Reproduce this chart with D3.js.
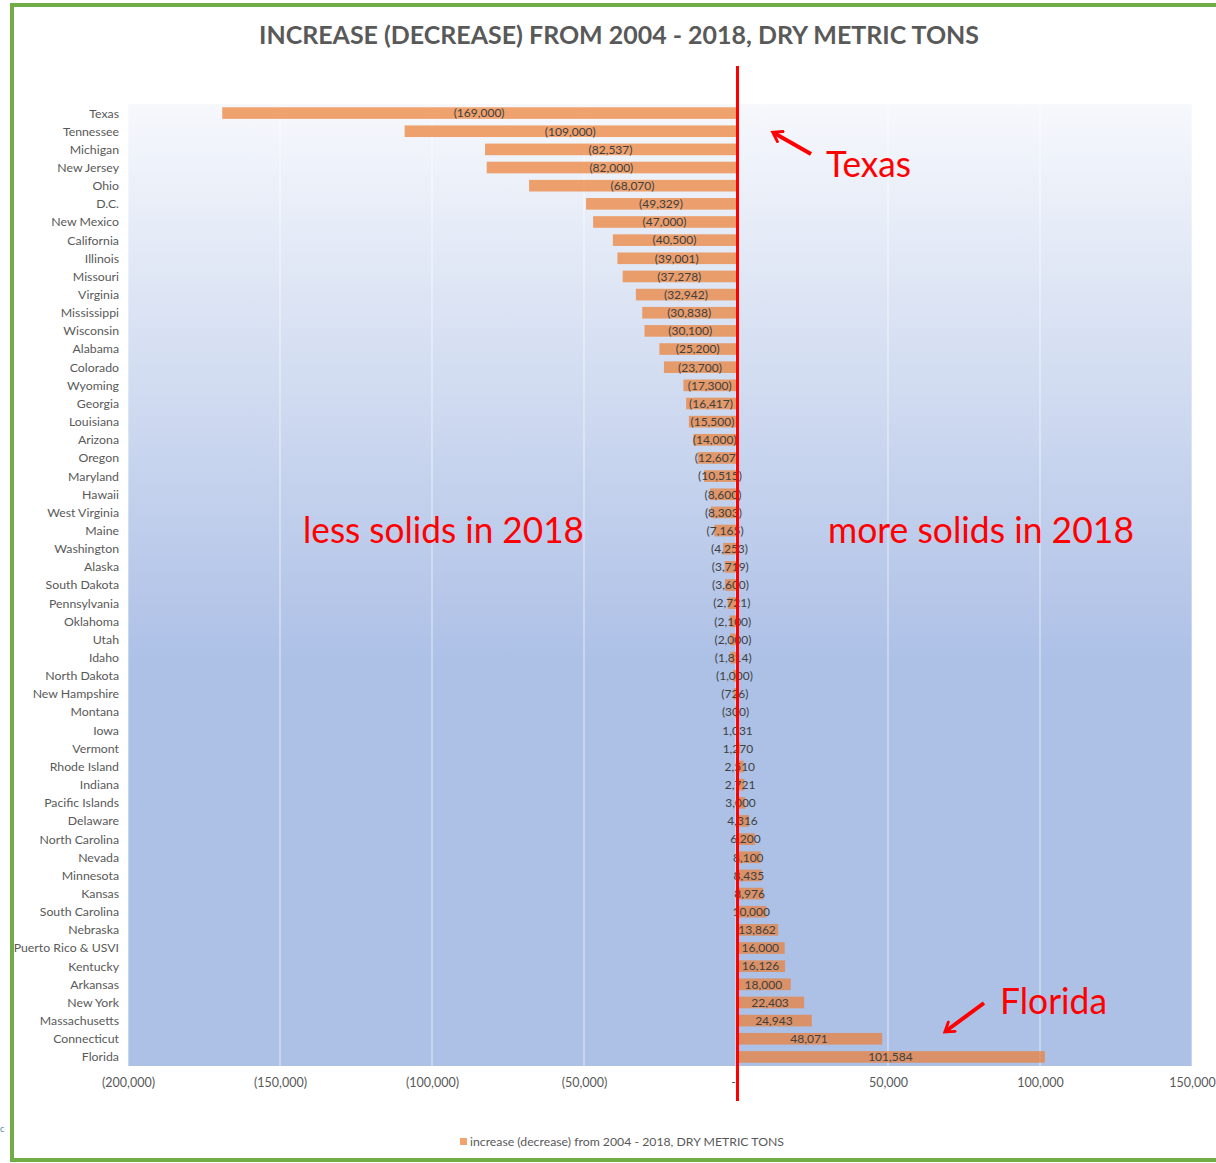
<!DOCTYPE html>
<html>
<head>
<meta charset="utf-8">
<script src="https://cdn.jsdelivr.net/npm/d3@7"></script>
<style>
  body { margin: 0; background: #fff; }
  svg text { font-family: Lato, "Open Sans", sans-serif; }
</style>
</head>
<body>
<div id="vis"></div>
<script>
const states = [
  "Texas", "Tennessee", "Michigan", "New Jersey", "Ohio", "D.C.", "New Mexico",
  "California", "Illinois", "Missouri", "Virginia", "Mississippi", "Wisconsin",
  "Alabama", "Colorado", "Wyoming", "Georgia", "Louisiana", "Arizona", "Oregon",
  "Maryland", "Hawaii", "West Virginia", "Maine", "Washington", "Alaska",
  "South Dakota", "Pennsylvania", "Oklahoma", "Utah", "Idaho", "North Dakota",
  "New Hampshire", "Montana", "Iowa", "Vermont", "Rhode Island", "Indiana",
  "Pacific Islands", "Delaware", "North Carolina", "Nevada", "Minnesota",
  "Kansas", "South Carolina", "Nebraska", "Puerto Rico & USVI", "Kentucky",
  "Arkansas", "New York", "Massachusetts", "Connecticut", "Florida",
];

const changes = [
  -169000, -109000, -82537, -82000, -68070, -49329, -47000,
  -40500, -39001, -37278, -32942, -30838, -30100,
  -25200, -23700, -17300, -16417, -15500, -14000, -12607,
  -10515, -8600, -8303, -7165, -4253, -3719,
  -3600, -2721, -2100, -2000, -1814, -1000,
  -726, -300, 1031, 1270, 2510, 2721,
  3000, 4316, 6200, 8100, 8435,
  8976, 10000, 13862, 16000, 16126,
  18000, 22403, 24943, 48071, 101584,
];

const xTicks = [-200000, -150000, -100000, -50000, 0, 50000, 100000, 150000];

const titleText = "INCREASE (DECREASE) FROM 2004 - 2018, DRY METRIC TONS";
const legendText = "increase (decrease) from 2004 - 2018, DRY METRIC TONS";

const W = 1216, H = 1163;
const plot = { left: 128, right: 1192, top: 104, bottom: 1066 };

const data = states.map((s, i) => ({ state: s, value: changes[i] }));

const fmt = d3.format(",");
const label = (v) => (v < 0 ? `(${fmt(-v)})` : v === 0 ? "-" : fmt(v));

const svg = d3
  .select("#vis")
  .append("svg")
  .attr("width", W)
  .attr("height", H);

// outer green frame
svg
  .append("rect")
  .attr("x", 12)
  .attr("y", 5)
  .attr("width", 1220)
  .attr("height", 1155)
  .attr("fill", "#fff")
  .attr("stroke", "#70ad47")
  .attr("stroke-width", 4);

// stray glyph left of the frame in the screenshot
svg
  .append("text")
  .attr("x", 0)
  .attr("y", 1132)
  .style("font-size", "9px")
  .attr("fill", "#3f8fa0")
  .text("c");

const defs = svg.append("defs");
const grad = defs
  .append("linearGradient")
  .attr("id", "bg-gradient")
  .attr("x1", "0%")
  .attr("y1", "0%")
  .attr("x2", "0%")
  .attr("y2", "100%");
grad.append("stop").attr("offset", "0%").attr("stop-color", "#f6f8fc");
grad.append("stop").attr("offset", "58%").attr("stop-color", "#adc0e6");
grad.append("stop").attr("offset", "100%").attr("stop-color", "#adc0e6");

const x = d3.scaleLinear().domain([-200000, 150000]).range([plot.left, plot.right]);
const y = d3
  .scaleBand()
  .domain(states)
  .range([plot.top, plot.bottom])
  .paddingInner(0.36)
  .paddingOuter(0.18);

// plot background
svg
  .append("rect")
  .attr("x", plot.left)
  .attr("y", plot.top)
  .attr("width", plot.right - plot.left)
  .attr("height", plot.bottom - plot.top)
  .attr("fill", "url(#bg-gradient)");

// gridlines
svg
  .append("g")
  .selectAll("line")
  .data(xTicks)
  .enter()
  .append("line")
  .attr("x1", (d) => x(d))
  .attr("x2", (d) => x(d))
  .attr("y1", plot.top)
  .attr("y2", plot.bottom)
  .attr("stroke", "#ffffff")
  .attr("stroke-opacity", 0.55)
  .attr("stroke-width", 1.2);

// bars
svg
  .append("g")
  .selectAll("rect")
  .data(data)
  .enter()
  .append("rect")
  .attr("x", (d) => x(Math.min(0, d.value)))
  .attr("y", (d) => y(d.state))
  .attr("width", (d) => Math.abs(x(d.value) - x(0)))
  .attr("height", y.bandwidth())
  .attr("fill", "#ed7d31")
  .attr("fill-opacity", 0.7);

// data labels
svg
  .append("g")
  .selectAll("text")
  .data(data)
  .enter()
  .append("text")
  .attr("x", (d) => (x(d.value) + x(0)) / 2)
  .attr("y", (d) => y(d.state) + y.bandwidth() / 2)
  .attr("dy", "0.36em")
  .attr("text-anchor", "middle")
  .style("font-size", "12px")
  .attr("fill", "#404040")
  .text((d) => label(d.value));

// category axis labels
svg
  .append("g")
  .selectAll("text")
  .data(states)
  .enter()
  .append("text")
  .attr("x", 119)
  .attr("y", (d) => y(d) + y.bandwidth() / 2)
  .attr("dy", "0.36em")
  .attr("text-anchor", "end")
  .style("font-size", "12.3px")
  .attr("fill", "#595959")
  .text((d) => d);

// x axis via d3 axis, styled like Excel
const xAxis = d3
  .axisBottom(x)
  .tickValues(xTicks)
  .tickFormat(label)
  .tickSize(0)
  .tickPadding(12);

const axisG = svg
  .append("g")
  .attr("transform", `translate(0,${plot.bottom})`)
  .call(xAxis);
axisG.select(".domain").remove();
axisG
  .selectAll("text")
  .style("font-family", "Lato, 'Open Sans', sans-serif")
  .style("font-size", "12.5px")
  .attr("fill", "#595959")
  .attr("dx", (d) => (d === 0 ? -3 : 0));

// title
svg
  .append("text")
  .attr("x", 619)
  .attr("y", 44)
  .attr("text-anchor", "middle")
  .attr("textLength", 720)
  .attr("lengthAdjust", "spacingAndGlyphs")
  .style("font-size", "24px")
  .style("font-weight", "bold")
  .attr("fill", "#595959")
  .text(titleText);

// legend
svg
  .append("rect")
  .attr("x", 460)
  .attr("y", 1138)
  .attr("width", 7)
  .attr("height", 7)
  .attr("fill", "#ed7d31")
  .attr("fill-opacity", 0.7);
svg
  .append("text")
  .attr("x", 470)
  .attr("y", 1145.5)
  .attr("textLength", 314)
  .attr("lengthAdjust", "spacingAndGlyphs")
  .style("font-size", "12px")
  .attr("fill", "#595959")
  .text(legendText);

// red annotations
const red = "#ff0000";
svg
  .append("line")
  .attr("x1", x(0) + 1.5)
  .attr("x2", x(0) + 1.5)
  .attr("y1", 66)
  .attr("y2", 1101)
  .attr("stroke", red)
  .attr("stroke-width", 3);

defs
  .append("marker")
  .attr("id", "arrow")
  .attr("viewBox", "0 0 10 10")
  .attr("refX", 6)
  .attr("refY", 5)
  .attr("markerWidth", 3.6)
  .attr("markerHeight", 3.6)
  .attr("orient", "auto")
  .append("path")
  .attr("d", "M1,1 L7,5 L1,9")
  .attr("fill", "none")
  .attr("stroke", red)
  .attr("stroke-width", 2)
  .attr("stroke-linecap", "round");

const arrows = [
  { x1: 811, y1: 154, x2: 774, y2: 133 },
  { x1: 984, y1: 1003, x2: 946, y2: 1031 },
];
svg
  .append("g")
  .selectAll("line")
  .data(arrows)
  .enter()
  .append("line")
  .attr("x1", (d) => d.x1)
  .attr("y1", (d) => d.y1)
  .attr("x2", (d) => d.x2)
  .attr("y2", (d) => d.y2)
  .attr("stroke", red)
  .attr("stroke-width", 4)
  .attr("marker-end", "url(#arrow)");

const notes = [
  { text: "Texas", x: 826, y: 177, w: 85 },
  { text: "Florida", x: 1000, y: 1014, w: 107 },
  { text: "less solids in 2018", x: 303, y: 543, w: 281 },
  { text: "more solids in 2018", x: 828, y: 543, w: 306 },
];
svg
  .append("g")
  .selectAll("text")
  .data(notes)
  .enter()
  .append("text")
  .attr("x", (d) => d.x)
  .attr("y", (d) => d.y)
  .attr("textLength", (d) => d.w)
  .attr("lengthAdjust", "spacingAndGlyphs")
  .style("font-size", "36px")
  .attr("fill", red)
  .text((d) => d.text);
</script>
</body>
</html>
